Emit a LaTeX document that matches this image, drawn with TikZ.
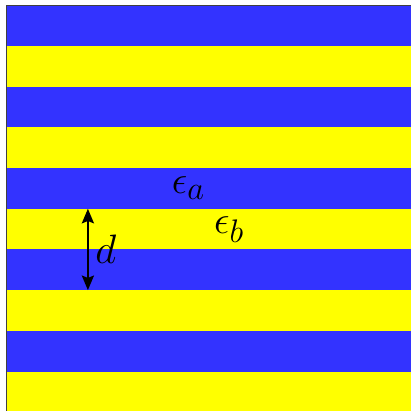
\documentclass[tikz,border=0pt]{standalone}
\usepackage{amsmath,amssymb}
\usepackage{xcolor}
\usepackage{tikz}
\usetikzlibrary{arrows.meta,positioning}

\definecolor{layerblue}{RGB}{51,51,255}
\definecolor{layeryellow}{RGB}{255,255,0}

\begin{document}
\begin{tikzpicture}[line width=1.1pt, every node/.style={font=\Huge, scale=1.1, transform shape}]
      \useasboundingbox (-0.16,-9.97) rectangle (9.94,0.13);
      % layers, blue on top, alternating down
      \begin{scope}
        \clip (-0.16,-9.97) rectangle (9.94,0.13);
        \foreach \k in {0,2,4,6,8} {
          \fill[layerblue] (0,-\k) rectangle (10,-\k-1);
          \fill[layeryellow] (0,-\k-1) rectangle (10,-\k-2);
        }
        % frame, top and left edges
        \draw[black!75, line width=0.8pt] (0,-10) -- (0,0) -- (10,0);
      \end{scope}
      % permittivities
      \node (epsa) at (4.47,-4.5) {$\epsilon_a$};
      \node (epsb) at (5.47,-5.52) {$\epsilon_b$};
      % period
      \coordinate (dtop) at (2,-5);
      \coordinate (dbot) at (2,-7);
      \draw[{Stealth[length=3.6mm,width=3mm,inset=0.6mm]}-{Stealth[length=3.6mm,width=3mm,inset=0.6mm]}] (dtop) -- (dbot)
        node[midway,right,inner sep=4pt,scale=1.05] (dlabel) {$d$};
    \end{tikzpicture}
\end{document}
